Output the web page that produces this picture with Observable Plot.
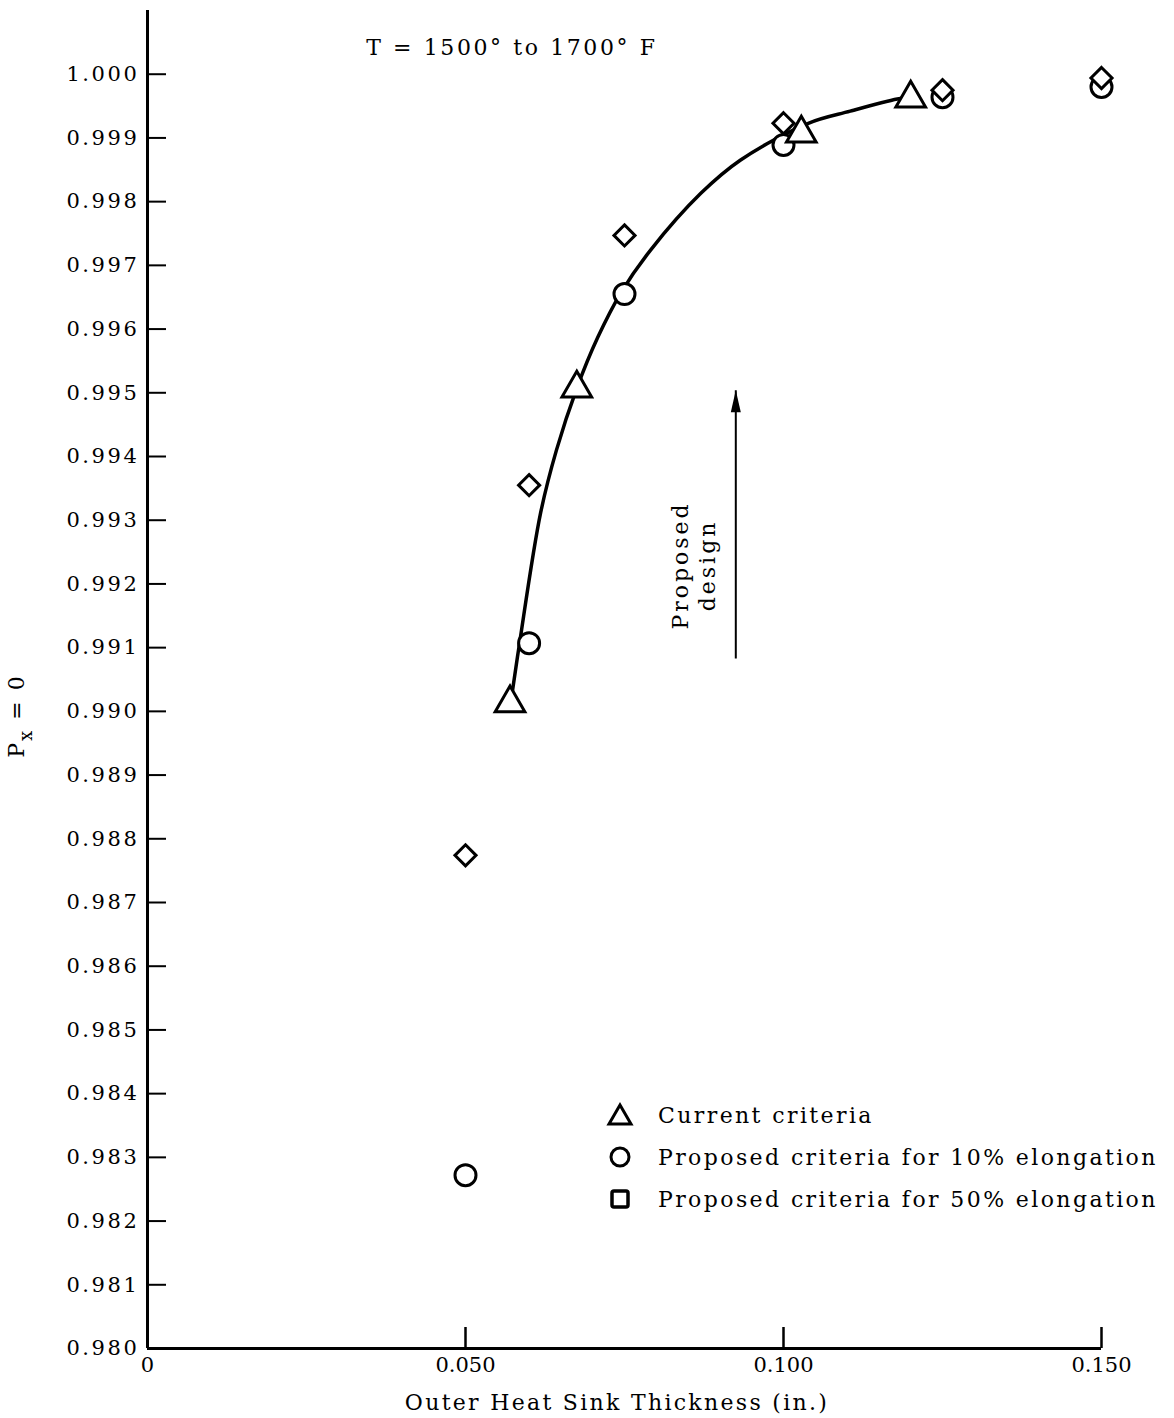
<!DOCTYPE html>
<html><head><meta charset="utf-8">
<script src="https://cdn.jsdelivr.net/npm/d3@7"></script>
<script src="https://cdn.jsdelivr.net/npm/@observablehq/plot@0.6"></script>
<style>
body{margin:0;background:#fff;}
#wrap{position:relative;width:1174px;height:1418px;font-family:"DejaVu Serif",serif;color:#000;}
#legend{position:absolute;left:604px;top:1094px;font-size:22px;letter-spacing:2.4px;}
.row{height:42px;display:flex;align-items:center;white-space:nowrap;}
.row svg{width:32px;height:32px;margin-right:22px;flex:none;}
.yax text{letter-spacing:2.6px;}
.note text{letter-spacing:3px;}
.ttl text{letter-spacing:2.6px;}
</style></head><body><div id="wrap"></div>
<script>
// Series: Current criteria (triangles)
const currentX = [0.0570, 0.0675, 0.1028, 0.1200];
const currentY = [0.99013, 0.99507, 0.99907, 0.99962];
// Proposed criteria for 10% elongation (circles)
const tenX = [0.050, 0.060, 0.075, 0.100, 0.125, 0.150];
const tenY = [0.98272, 0.99107, 0.99655, 0.99889, 0.99964, 0.99980];
// Proposed criteria for 50% elongation (diamonds in plot)
const fiftyX = [0.050, 0.060, 0.075, 0.100, 0.125, 0.150];
const fiftyY = [0.98774, 0.99355, 0.99747, 0.99923, 0.99975, 0.99994];
// Faired curve through the points
const curveX = [0.0574, 0.0585, 0.0618, 0.0643, 0.0675, 0.0708, 0.0745, 0.0791, 0.0870, 0.0932, 0.1039, 0.1105, 0.1179, 0.1200];
const curveY = [0.99033, 0.99107, 0.99311, 0.99410, 0.99507, 0.99587, 0.99658, 0.99724, 0.99813, 0.99865, 0.99923, 0.99942, 0.99961, 0.99964];
// Ticks
const xTicks = [0, 0.050, 0.100, 0.150];
const yTicks = [0.980, 0.981, 0.982, 0.983, 0.984, 0.985, 0.986, 0.987, 0.988, 0.989, 0.990, 0.991, 0.992, 0.993, 0.994, 0.995, 0.996, 0.997, 0.998, 0.999, 1.000];
// Annotations
const titleText = ["T = 1500° to 1700° F"];
const titleX = [0.0573];
const titleY = [1.00042];
const arrowX = [0.0925];
const arrowY1 = [0.99083];
const arrowY2 = [0.99504];
const noteText = ["Proposed\ndesign"];
const noteX = [0.0858];
const noteY = [0.99229];
const legendLabels = ["Current criteria", "Proposed criteria for 10% elongation", "Proposed criteria for 50% elongation"];

const toRows = (xs, ys) => xs.map((x, i) => ({x, y: ys[i]}));
const current = toRows(currentX, currentY);
const ten = toRows(tenX, tenY);
const fifty = toRows(fiftyX, fiftyY);
const curve = toRows(curveX, curveY);
const arrows = arrowX.map((x, i) => ({x, y1: arrowY1[i], y2: arrowY2[i]}));

// narrow filled arrowhead, tip at the symbol origin
const arrowHead = {draw(context) { context.moveTo(0, 0); context.lineTo(5, 22); context.lineTo(-5, 22); context.closePath(); }};

const W = 1174, H = 1418;
const chart = Plot.plot({
  width: W, height: H,
  marginLeft: 147, marginRight: 73, marginTop: 10, marginBottom: 70,
  style: {fontFamily: "DejaVu Serif, serif", fontSize: "21px", background: "#fff", color: "#000"},
  x: {domain: [0, 0.150]},
  y: {domain: [0.980, 1.001]},
  marks: [
    Plot.axisY(yTicks, {tickSize: -19, tickPadding: 27, tickFormat: d3.format(".3f"), label: null, strokeWidth: 2, fontSize: 21, className: "yax"}),
    Plot.axisX(xTicks, {tickSize: -21, tickPadding: 30, tickFormat: d => d === 0 ? "0" : d3.format(".3f")(d), label: null, strokeWidth: 2.5, fontSize: 21}),
    Plot.ruleX([0], {strokeWidth: 3}),
    Plot.ruleY([0.980], {strokeWidth: 3}),
    Plot.line(curve, {x: "x", y: "y", curve: "catmull-rom", strokeWidth: 3.5}),
    Plot.link(arrows, {x1: "x", x2: "x", y1: "y1", y2: "y2", strokeWidth: 2}),
    Plot.dot(arrows, {x: "x", y: "y2", symbol: arrowHead, fill: "black", stroke: "none"}),
    Plot.text(noteText.map((t, i) => ({t, x: noteX[i], y: noteY[i]})), {x: "x", y: "y", text: "t", rotate: -90, fontSize: 22, lineHeight: 1.2, className: "note"}),
    Plot.text(titleText.map((t, i) => ({t, x: titleX[i], y: titleY[i]})), {x: "x", y: "y", text: "t", fontSize: 22, className: "ttl"}),
    Plot.dot(ten, {x: "x", y: "y", symbol: "circle", r: 10.5, stroke: "black", fill: "white", strokeWidth: 3}),
    Plot.dot(fifty, {x: "x", y: "y", symbol: "diamond2", r: 9.5, stroke: "black", fill: "white", strokeWidth: 3}),
    Plot.dot(current, {x: "x", y: "y", symbol: "triangle", r: 11, stroke: "black", fill: "white", strokeWidth: 3})
  ]
});

const svg = d3.select(chart);
// y-axis label: P subscript x = 0
const yl = svg.append("text")
  .attr("transform", "translate(24,716) rotate(-90)")
  .attr("text-anchor", "middle")
  .attr("font-family", "DejaVu Serif, serif")
  .attr("font-size", 22)
  .attr("letter-spacing", "2px")
  .attr("fill", "black");
yl.append("tspan").text("P");
yl.append("tspan").attr("dy", 8).attr("font-size", 18).text("x");
yl.append("tspan").attr("dy", -8).text(" = 0");
// x-axis label
svg.append("text")
  .attr("x", 617).attr("y", 1402)
  .attr("text-anchor", "middle").attr("dominant-baseline", "central")
  .attr("font-family", "DejaVu Serif, serif").attr("font-size", 22)
  .attr("letter-spacing", "2.3px")
  .attr("fill", "black")
  .text("Outer Heat Sink Thickness (in.)");

const wrap = document.getElementById("wrap");
wrap.appendChild(chart);

// Legend
const icons = [
  '<svg viewBox="-16 -16 32 32"><path d="M0,-10 L11,9 L-11,9 Z" fill="white" stroke="black" stroke-width="3" stroke-linejoin="miter"/></svg>',
  '<svg viewBox="-16 -16 32 32"><circle r="9" fill="white" stroke="black" stroke-width="3"/></svg>',
  '<svg viewBox="-16 -16 32 32"><rect x="-8" y="-8" width="16" height="16" rx="2" fill="white" stroke="black" stroke-width="3.5"/></svg>'
];
const legend = document.createElement("div");
legend.id = "legend";
legendLabels.forEach((lab, i) => {
  const row = document.createElement("div");
  row.className = "row";
  row.innerHTML = icons[i] + "<span></span>";
  row.querySelector("span").textContent = lab;
  legend.appendChild(row);
});
wrap.appendChild(legend);
</script>
</body></html>
